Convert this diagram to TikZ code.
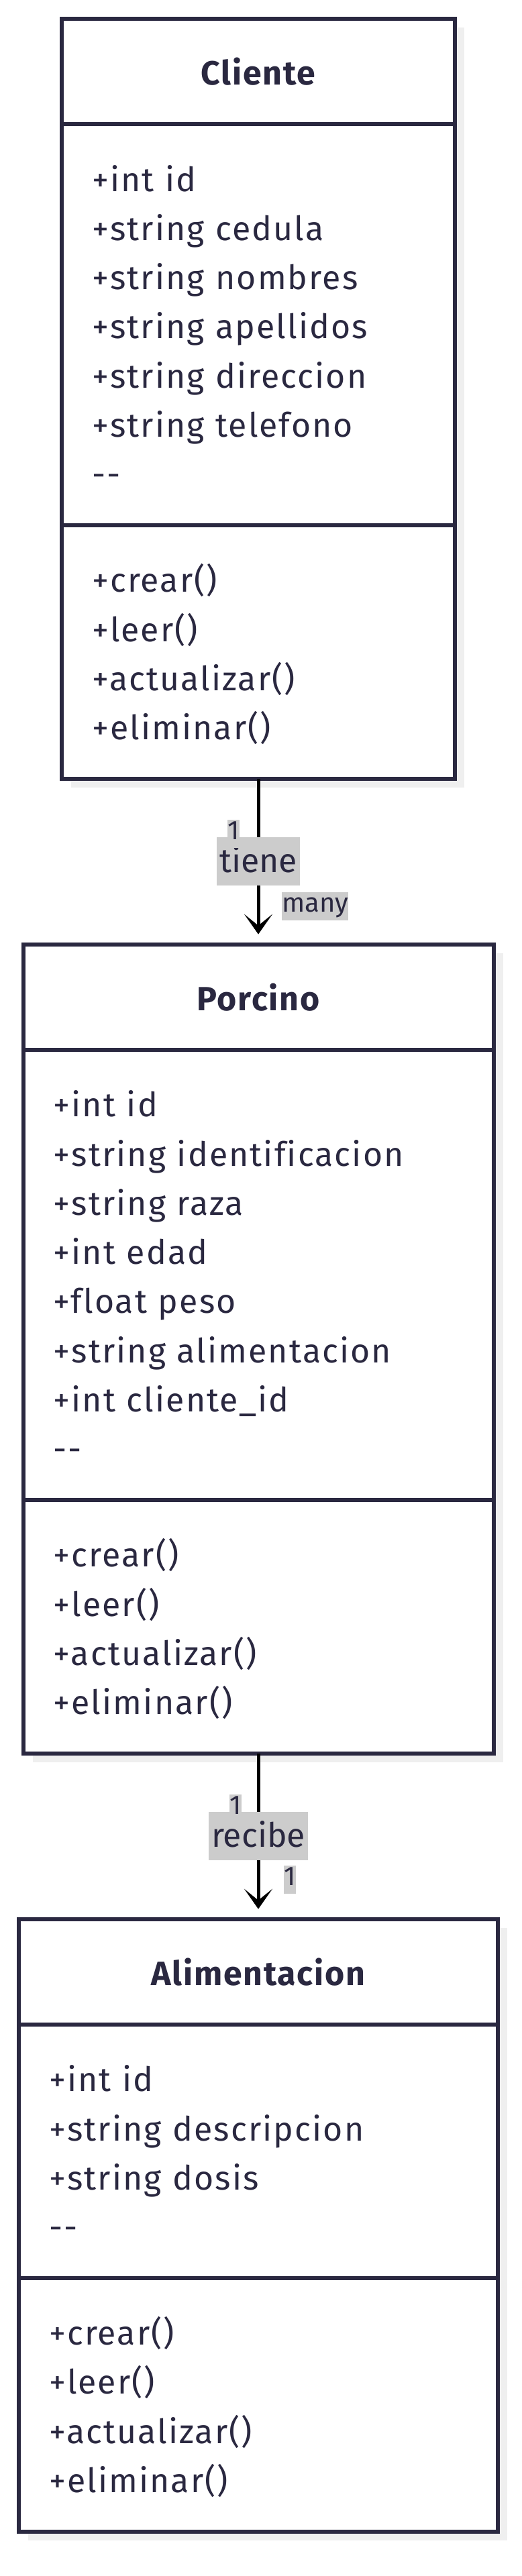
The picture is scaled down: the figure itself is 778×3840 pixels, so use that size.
\documentclass[tikz,border=0pt]{standalone}
\usepackage{fontspec}
\setmainfont{Fira Sans}
\newfontfamily\membfont[LetterSpace=4.2, Ligatures=NoCommon]{Fira Sans}
\newfontfamily\titlefont[LetterSpace=3.5, Ligatures=NoCommon]{Fira Sans}
\usetikzlibrary{arrows.meta, positioning, shadows}

\definecolor{ink}{HTML}{2A2840}
\definecolor{lblgray}{HTML}{CCCCCC}
\definecolor{shade}{HTML}{EFEFEF}
% one member line: fixed height and depth
\newcommand{\fila}{\rule[-15.65pt]{0pt}{73.3pt}}

\begin{document}
\begin{tikzpicture}[
    x=1pt, y=-1pt,
    node distance=247pt,
    classbox/.style={
        rectangle, draw=ink, fill=white, line width=6pt,
        outer sep=0pt, text=ink,
        drop shadow={shadow xshift=14pt, shadow yshift=-13pt, fill=shade, opacity=1}
    },
    head/.style={
        classbox, inner ysep=0pt, minimum height=157pt,
        font=\titlefont\fontsize{50}{60}\selectfont\bfseries,
        text height=41pt, text depth=0pt
    },
    comp/.style={
        classbox, text width=#1, align=left,
        inner xsep=45pt, inner ysep=42.35pt,
        font=\membfont\fontsize{50}{73.3}\selectfont
    },
    edgelbl/.style={
        fill=lblgray, text=ink, inner xsep=4pt, inner ysep=0pt,
        text height=52pt, text depth=20pt,
        font=\fontsize{50}{60}\selectfont
    },
    mult/.style={
        fill=lblgray, text=ink, inner sep=0pt,
        text height=30pt, text depth=12pt,
        font=\fontsize{40}{48}\selectfont
    },
    assoc/.style={-{Stealth[length=30pt, width=42pt, inset=17pt]}, line width=5pt, black, shorten >=15pt}
]
\useasboundingbox (0,0) rectangle (778,3840);

% Cliente
\node[head, minimum width=586pt, anchor=north] (cliente) at (385,28) {Cliente};
\node[comp=496pt, below=0pt of cliente] (cliAttr) {\fila+int id\\ \fila+string cedula\\ \fila+string nombres\\ \fila+string apellidos\\ \fila+string direccion\\ \fila+string telefono\\ \fila-{}-};
\node[comp=496pt, below=0pt of cliAttr] (cliMeth) {\fila+crear()\\ \fila+leer()\\ \fila+actualizar()\\ \fila+eliminar()};

% Porcino
\node[head, minimum width=701pt, below=of cliMeth] (porcino) {Porcino};
\node[comp=611pt, below=0pt of porcino] (porAttr) {\fila+int id\\ \fila+string identificacion\\ \fila+string raza\\ \fila+int edad\\ \fila+float peso\\ \fila+string alimentacion\\ \fila+int cliente\_id\\ \fila-{}-};
\node[comp=611pt, below=0pt of porAttr] (porMeth) {\fila+crear()\\ \fila+leer()\\ \fila+actualizar()\\ \fila+eliminar()};

% Alimentacion
\node[head, minimum width=714pt, below=of porMeth] (alimentacion) {Alimentacion};
\node[comp=624pt, below=0pt of alimentacion] (aliAttr) {\fila+int id\\ \fila+string descripcion\\ \fila+string dosis\\ \fila-{}-};
\node[comp=624pt, below=0pt of aliAttr] (aliMeth) {\fila+crear()\\ \fila+leer()\\ \fila+actualizar()\\ \fila+eliminar()};

% relaciones
\draw[assoc] (cliMeth.south) -- node[edgelbl] (tiene) {tiene} (porcino.north);
\node[mult, below left=61pt and 28pt of cliMeth.south] (cliMult) {1};
\node[mult, above right=36pt and 35pt of porcino.north] (porMult) {many};

\draw[assoc] (porMeth.south) -- node[edgelbl] (recibe) {recibe} (alimentacion.north);
\node[mult, below left=61pt and 25pt of porMeth.south] (porMult2) {1};
\node[mult, above right=38pt and 38pt of alimentacion.north] (aliMult) {1};

\end{tikzpicture}
\end{document}
